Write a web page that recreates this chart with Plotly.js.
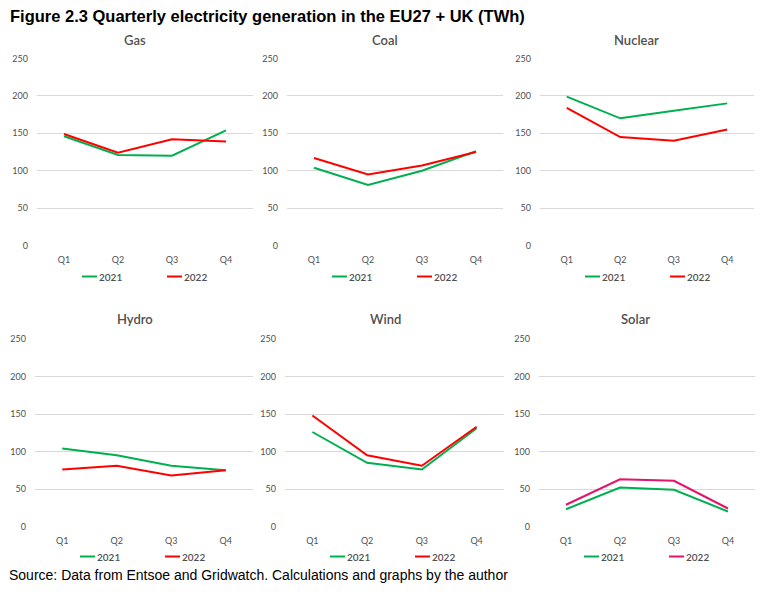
<!DOCTYPE html>
<html>
<head>
<meta charset="utf-8">
<script src="https://cdn.plot.ly/plotly-3.0.1.min.js"></script>
<style>html,body{margin:0;padding:0;background:#fff;}#chart{width:761px;height:597px;}</style>
</head>
<body>
<div id="chart"></div>
<script>
// ---- data ----
const quarters = ['Q1', 'Q2', 'Q3', 'Q4'];
const years = ['2021', '2022'];
const sources = ['Gas', 'Coal', 'Nuclear', 'Hydro', 'Wind', 'Solar'];
const gas2021 = [146, 121, 120, 154];
const gas2022 = [149, 124, 142, 139];
const coal2021 = [104, 81, 100, 126];
const coal2022 = [117, 95, 107, 125];
const nuclear2021 = [199, 170, 180, 190];
const nuclear2022 = [184, 145, 140, 155];
const hydro2021 = [104, 95, 81, 75];
const hydro2022 = [76, 81, 68, 75];
const wind2021 = [126, 85, 76, 131];
const wind2022 = [148, 95, 81, 133];
const solar2021 = [23, 52, 49, 20];
const solar2022 = [29, 63, 61, 24];
const yTicks = [0, 50, 100, 150, 200, 250];

const series2021 = [gas2021, coal2021, nuclear2021, hydro2021, wind2021, solar2021];
const series2022 = [gas2022, coal2022, nuclear2022, hydro2022, wind2022, solar2022];

// ---- styling / layout ----
const W = 761, H = 597;
const green = '#00B050';
const red = '#FF0000';
const pink = '#E3146A';
const colors2022 = [red, red, red, red, red, pink];
const gray = '#505050';
const FONT = 'Lato, "Open Sans", sans-serif';

// plot area boxes in px: [x0, x1, yTop, yBottom]
const boxes = [
  [37, 253, 58.5, 245.5],
  [287, 503, 58.5, 245.5],
  [540, 754, 58.5, 245.5],
  [35, 253, 339, 526.5],
  [285, 504, 339, 526.5],
  [539, 755, 339, 526.5]
];
const titleCx = [135, 385, 636, 135, 385, 635];
const titleCy = [40, 40, 40, 319, 319, 319];
const legendY = [276.5, 276.5, 276.5, 556.5, 556.5, 556.5];

const px = x => x / W;
const py = y => 1 - y / H;

const traces = [];
const layout = {
  width: W, height: H,
  margin: {l: 0, r: 0, t: 0, b: 0},
  paper_bgcolor: '#ffffff',
  plot_bgcolor: 'rgba(0,0,0,0)',
  showlegend: false,
  font: {family: FONT, color: gray},
  annotations: [],
  shapes: []
};

sources.forEach((name, i) => {
  const n = i + 1;
  const xa = 'x' + (n === 1 ? '' : n);
  const ya = 'y' + (n === 1 ? '' : n);
  const b = boxes[i];
  traces.push({
    type: 'scatter', mode: 'lines', name: years[0],
    x: quarters, y: series2021[i], xaxis: xa, yaxis: ya,
    line: {color: green, width: 2}, hoverinfo: 'skip'
  });
  traces.push({
    type: 'scatter', mode: 'lines', name: years[1],
    x: quarters, y: series2022[i], xaxis: xa, yaxis: ya,
    line: {color: colors2022[i], width: 2}, hoverinfo: 'skip'
  });
  layout['xaxis' + (n === 1 ? '' : n)] = {
    domain: [px(b[0]), px(b[1])],
    anchor: ya,
    type: 'category',
    range: [-0.5, 3.5],
    showgrid: false, zeroline: false, showline: false,
    ticks: '', ticklabelstandoff: 7,
    tickfont: {family: FONT, size: 9, color: gray},
    fixedrange: true
  };
  layout['yaxis' + (n === 1 ? '' : n)] = {
    domain: [py(b[3]), py(b[2])],
    anchor: xa,
    range: [0, 250],
    tickvals: yTicks,
    showgrid: true, gridcolor: '#D9D9D9', gridwidth: 1,
    zeroline: false, showline: false,
    ticks: '', ticklabelstandoff: 8,
    tickfont: {family: FONT, size: 9, color: gray},
    fixedrange: true
  };
  // panel title
  layout.annotations.push({
    xref: 'paper', yref: 'paper', x: px(titleCx[i]), y: py(titleCy[i]),
    xanchor: 'center', yanchor: 'middle', showarrow: false,
    text: name, font: {family: FONT, size: 13, color: gray, weight: 600}
  });
  // legend entries
  const legendCols = [green, colors2022[i]];
  const offs = [45, 130];
  years.forEach((yr, k) => {
    const lx = b[0] + offs[k];
    layout.shapes.push({
      type: 'line', xref: 'paper', yref: 'paper',
      x0: px(lx), x1: px(lx + 15), y0: py(legendY[i]), y1: py(legendY[i]),
      line: {color: legendCols[k], width: 2}
    });
    layout.annotations.push({
      xref: 'paper', yref: 'paper', x: px(lx + 15.5), y: py(legendY[i]),
      xanchor: 'left', yanchor: 'middle', showarrow: false, borderpad: 0,
      text: yr, font: {family: FONT, size: 10, color: gray, weight: 600}
    });
  });
});

// figure title and source
layout.annotations.push({
  xref: 'paper', yref: 'paper', x: px(8.5), y: py(16),
  xanchor: 'left', yanchor: 'middle', showarrow: false, borderpad: 0,
  text: '<b>Figure 2.3 Quarterly electricity generation in the EU27 + UK (TWh)</b>',
  font: {family: '"Liberation Sans", Arial, sans-serif', size: 16.5, color: '#000000'}
});
layout.annotations.push({
  xref: 'paper', yref: 'paper', x: px(8), y: py(575),
  xanchor: 'left', yanchor: 'middle', showarrow: false, borderpad: 0,
  text: 'Source: Data from Entsoe and Gridwatch. Calculations and graphs by the author',
  font: {family: '"Liberation Sans", Arial, sans-serif', size: 14, color: '#000000'}
});

Plotly.newPlot('chart', traces, layout, {staticPlot: true, displayModeBar: false});
</script>
</body>
</html>
